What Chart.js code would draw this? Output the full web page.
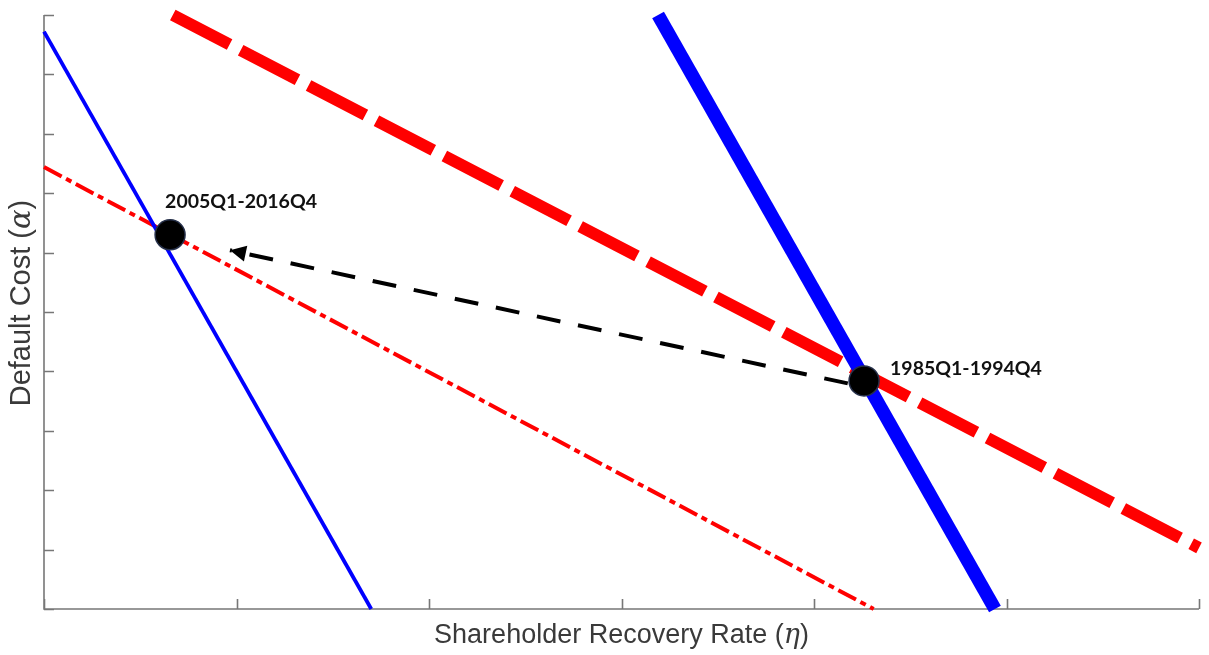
<!DOCTYPE html>
<html>
<head>
<meta charset="utf-8">
<script src="https://cdn.jsdelivr.net/npm/chart.js@4.4.1/dist/chart.umd.min.js"></script>
<style>
  html, body { margin: 0; padding: 0; background: #fff; }
  #wrap { width: 1209px; height: 655px; }
</style>
</head>
<body>
<div id="wrap"><canvas id="c" width="1209" height="655"></canvas></div>
<script>
// Axis ticks (no numeric labels are shown, only tick marks)
const etaTicks = [0, 1, 2, 3, 4, 5, 6];
const alphaTicks = [0, 1, 2, 3, 4, 5, 6, 7, 8, 9, 10];

// Indifference lines in (eta, alpha) space
const thinBlue  = [{ x: 0.00, y: 9.72 }, { x: 1.70, y: 0.00 }];
const thickBlue = [{ x: 3.19, y: 10.0 }, { x: 4.94, y: 0.00 }];
const thickRed  = [{ x: 0.669, y: 10.0 }, { x: 6.00, y: 1.03 }];
const thinRed   = [{ x: 0.00, y: 7.44 }, { x: 4.31, y: 0.00 }];

// Shift between sample periods (arrow tip first, then tail)
const arrowPath = [{ x: 0.966, y: 6.04 }, { x: 4.187, y: 3.79 }];

// Estimated equilibrium points per period
const periods = ['2005Q1-2016Q4', '1985Q1-1994Q4'];
const periodEta = [0.655, 4.26];
const periodAlpha = [6.30, 3.84];

const periodPoints = periods.map((p, i) => ({ x: periodEta[i], y: periodAlpha[i], label: p }));

// Inward tick marks, axis lines and axis titles
const axesPlugin = {
  id: 'axes',
  beforeDatasetsDraw(chart) {
    const { ctx, chartArea: a, scales: { x, y } } = chart;
    ctx.save();
    ctx.strokeStyle = '#777';
    ctx.lineWidth = 1.6;
    ctx.beginPath();
    ctx.moveTo(a.left, a.top);
    ctx.lineTo(a.left, a.bottom);
    ctx.lineTo(a.right, a.bottom);
    const tick = 10;
    alphaTicks.forEach(v => {
      const py = Math.round(y.getPixelForValue(v)) + 0.5;
      ctx.moveTo(a.left, py);
      ctx.lineTo(a.left + tick, py);
    });
    etaTicks.forEach(v => {
      const px = Math.round(x.getPixelForValue(v)) + 0.5;
      ctx.moveTo(px, a.bottom);
      ctx.lineTo(px, a.bottom - tick);
    });
    ctx.stroke();

    // axis titles: sans text with an italic serif Greek symbol
    const drawTitle = (parts, cx, cy, rot) => {
      ctx.save();
      ctx.translate(cx, cy);
      ctx.rotate(rot);
      ctx.fillStyle = '#3a3a3a';
      ctx.textBaseline = 'middle';
      let total = 0;
      parts.forEach(p => { ctx.font = p.font; total += ctx.measureText(p.t).width; });
      let xx = -total / 2;
      parts.forEach(p => {
        ctx.font = p.font;
        ctx.fillText(p.t, xx, 0);
        xx += ctx.measureText(p.t).width;
      });
      ctx.restore();
    };
    const sansX = '27px "Liberation Sans", Arial, sans-serif';
    const greekX = 'italic 27px "DejaVu Serif", "Liberation Serif", serif';
    const sansY = '29px "Liberation Sans", Arial, sans-serif';
    const greekY = 'italic 29px "DejaVu Serif", "Liberation Serif", serif';
    drawTitle([{ t: 'Shareholder Recovery Rate (', font: sansX }, { t: 'η', font: greekX }, { t: ')', font: sansX }],
      (a.left + a.right) / 2, a.bottom + 27, 0);
    drawTitle([{ t: 'Default Cost (', font: sansY }, { t: 'α', font: greekY }, { t: ')', font: sansY }],
      22, 303, -Math.PI / 2);
    ctx.restore();
  }
};

// Arrowhead at the tip of the shift arrow
const arrowHeadPlugin = {
  id: 'arrowHead',
  afterDatasetsDraw(chart) {
    const meta = chart.getDatasetMeta(1);
    if (!meta || meta.data.length < 2) return;
    const tip = meta.data[0], tail = meta.data[1];
    const ang = Math.atan2(tail.y - tip.y, tail.x - tip.x);
    const len = 16, half = 8;
    const { ctx } = chart;
    ctx.save();
    ctx.fillStyle = '#000';
    ctx.translate(tip.x, tip.y);
    ctx.rotate(ang);
    ctx.beginPath();
    ctx.moveTo(0, 0);
    ctx.lineTo(len, -half);
    ctx.lineTo(len, half);
    ctx.closePath();
    ctx.fill();
    ctx.restore();
  }
};

// Period labels next to the points
const labelPlugin = {
  id: 'periodLabels',
  afterDatasetsDraw(chart) {
    const meta = chart.getDatasetMeta(0);
    const { ctx } = chart;
    const offsets = [{ dx: -5, dy: -33 }, { dx: 26, dy: -12 }];
    ctx.save();
    ctx.font = 'bold 19.5px Lato, "Open Sans", sans-serif';
    ctx.fillStyle = '#111';
    ctx.textBaseline = 'middle';
    ctx.textAlign = 'left';
    meta.data.forEach((pt, i) => {
      ctx.fillText(periods[i], pt.x + offsets[i].dx, pt.y + offsets[i].dy);
    });
    ctx.restore();
  }
};

new Chart(document.getElementById('c'), {
  type: 'line',
  data: {
    datasets: [
      {
        label: 'periods', type: 'scatter', data: periodPoints, order: 0,
        pointRadius: 15, pointHoverRadius: 15,
        backgroundColor: '#000', borderColor: '#26304a', borderWidth: 1.5,
        showLine: false, clip: false
      },
      {
        label: 'shift', data: arrowPath, order: 1,
        borderColor: '#000', borderWidth: 4, borderDash: [24, 18], borderDashOffset: 22,
        pointRadius: 0, fill: false, clip: false
      },
      {
        label: 'thick blue', data: thickBlue, order: 2,
        borderColor: '#0000ff', borderWidth: 13.5, pointRadius: 0, fill: false, clip: false
      },
      {
        label: 'thick red', data: thickRed, order: 3,
        borderColor: '#ff0000', borderWidth: 12, borderDash: [64, 12.5],
        pointRadius: 0, fill: false, clip: false
      },
      {
        label: 'thin blue', data: thinBlue, order: 4,
        borderColor: '#0000ff', borderWidth: 3.8, pointRadius: 0, fill: false, clip: false
      },
      {
        label: 'thin red', data: thinRed, order: 5,
        borderColor: '#ff0000', borderWidth: 4, borderDash: [20, 5, 6, 5],
        pointRadius: 0, fill: false, clip: false
      }
    ]
  },
  options: {
    responsive: false,
    animation: false,
    events: [],
    layout: { autoPadding: false, padding: { left: 44, right: 10, top: 15, bottom: 46 } },
    scales: {
      x: { type: 'linear', min: 0, max: 6, display: false },
      y: { type: 'linear', min: 0, max: 10, display: false }
    },
    elements: { line: { tension: 0, borderCapStyle: 'butt' } },
    plugins: { legend: { display: false }, tooltip: { enabled: false } }
  },
  plugins: [axesPlugin, arrowHeadPlugin, labelPlugin]
});
</script>
</body>
</html>
